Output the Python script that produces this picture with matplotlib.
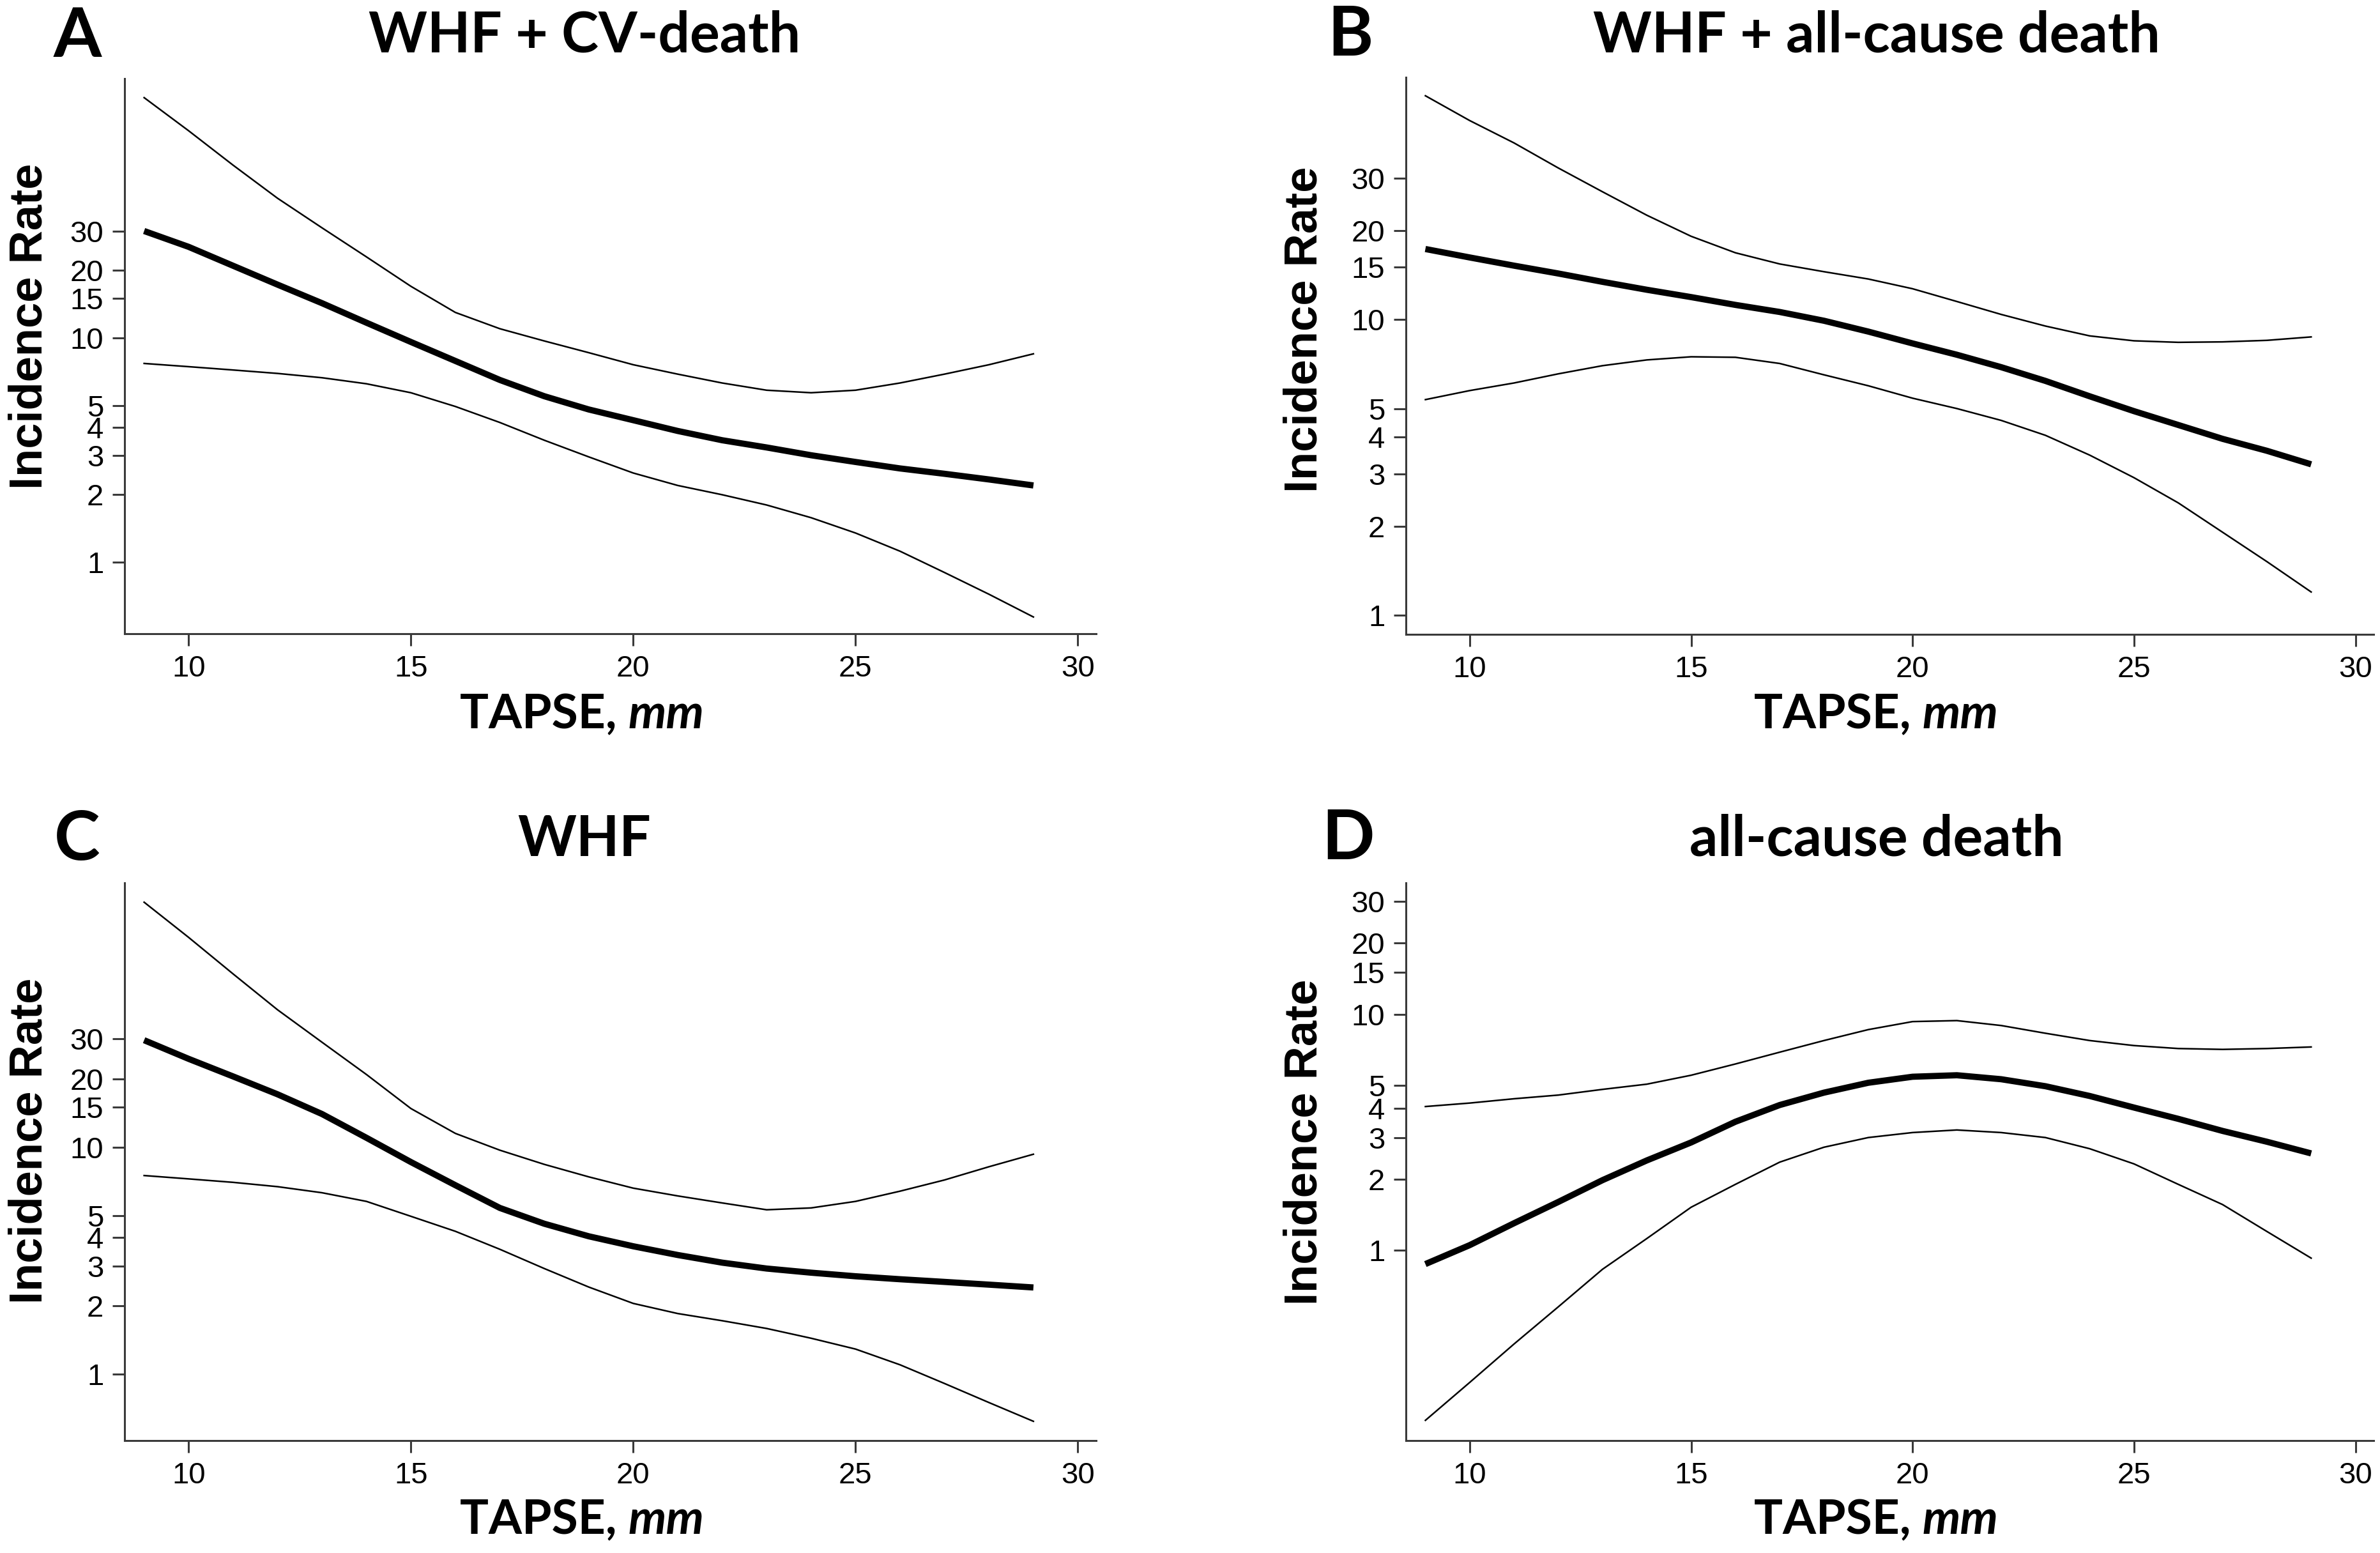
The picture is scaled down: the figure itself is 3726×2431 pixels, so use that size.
import matplotlib
matplotlib.use("Agg")
import matplotlib.pyplot as plt
from matplotlib.ticker import NullLocator
from matplotlib.text import Annotation

W, H = 3726, 2431

# TAPSE (mm) grid
tapse = [9, 10, 11, 12, 13, 14, 15, 16, 17, 18, 19, 20, 21, 22, 23, 24, 25, 26, 27, 28, 29]

# A: WHF + CV-death
a_est = [30, 25.5, 21, 17.3, 14.3, 11.7, 9.6, 7.9, 6.5, 5.5, 4.8, 4.3, 3.85, 3.5, 3.25, 3.0, 2.8, 2.62, 2.48, 2.34, 2.2]
a_hi = [118, 84, 59, 42, 31, 23, 17, 13, 11, 9.7, 8.6, 7.6, 6.9, 6.3, 5.85, 5.7, 5.85, 6.3, 6.9, 7.6, 8.5]
a_lo = [7.7, 7.45, 7.2, 6.95, 6.65, 6.25, 5.7, 4.95, 4.2, 3.5, 2.95, 2.5, 2.2, 2.0, 1.8, 1.58, 1.35, 1.12, 0.9, 0.72, 0.57]

# B: WHF + all-cause death
b_est = [17.3, 16.2, 15.2, 14.3, 13.4, 12.6, 11.9, 11.2, 10.6, 9.9, 9.1, 8.3, 7.6, 6.9, 6.2, 5.5, 4.9, 4.4, 3.95, 3.6, 3.24]
b_hi = [57, 47, 39.5, 32.5, 27, 22.5, 19.1, 16.8, 15.4, 14.5, 13.7, 12.7, 11.5, 10.4, 9.5, 8.8, 8.47, 8.37, 8.4, 8.5, 8.73]
b_lo = [5.36, 5.75, 6.1, 6.55, 6.98, 7.3, 7.48, 7.45, 7.1, 6.5, 5.97, 5.42, 5.0, 4.56, 4.06, 3.48, 2.92, 2.4, 1.91, 1.52, 1.2]

# C: WHF
c_est = [29.6, 24.5, 20.5, 17.1, 14.0, 11.0, 8.6, 6.8, 5.4, 4.6, 4.05, 3.66, 3.35, 3.1, 2.92, 2.8, 2.7, 2.62, 2.55, 2.48, 2.41]
c_hi = [120, 84, 58, 40.3, 29, 20.9, 14.8, 11.5, 9.7, 8.4, 7.4, 6.6, 6.1, 5.68, 5.3, 5.4, 5.77, 6.4, 7.17, 8.2, 9.31]
c_lo = [7.5, 7.25, 7.0, 6.7, 6.3, 5.77, 4.96, 4.26, 3.55, 2.92, 2.42, 2.05, 1.85, 1.72, 1.59, 1.44, 1.29, 1.1, 0.91, 0.75, 0.62]

# D: all-cause death
d_est = [0.873, 1.05, 1.3, 1.6, 1.98, 2.4, 2.86, 3.5, 4.12, 4.65, 5.12, 5.43, 5.51, 5.3, 4.95, 4.5, 4.02, 3.6, 3.2, 2.88, 2.57]
d_hi = [4.06, 4.2, 4.38, 4.54, 4.8, 5.05, 5.51, 6.15, 6.9, 7.73, 8.6, 9.3, 9.39, 8.95, 8.3, 7.73, 7.36, 7.15, 7.09, 7.15, 7.26]
d_lo = [0.19, 0.275, 0.40, 0.575, 0.83, 1.12, 1.52, 1.9, 2.36, 2.73, 3.0, 3.15, 3.23, 3.15, 3.0, 2.69, 2.32, 1.9, 1.56, 1.2, 0.925]

letters = ["A", "B", "C", "D"]
titles = ["WHF + CV-death", "WHF + all-cause death", "WHF", "all-cause death"]
y_ticks = [1, 2, 3, 4, 5, 10, 15, 20, 30]
x_ticks = [10, 15, 20, 25, 30]
y_limits = [(0.48, 143.5), (0.863, 65.8), (0.51, 146), (0.156, 36)]

series = [(a_est, a_hi, a_lo), (b_est, b_hi, b_lo), (c_est, c_hi, c_lo), (d_est, d_hi, d_lo)]

fig = plt.figure(figsize=(W / 100, H / 100), dpi=100)

# axes boxes in pixels: left, top, right, bottom
boxes = [(195, 123, 1716, 992), (2201, 121, 3716, 993),
         (195, 1382, 1716, 2255), (2201, 1382, 3716, 2255)]
# text anchors in pixels
title_pos = [(915, 82), (2938, 82), (915, 1340), (2938, 1340)]
letter_pos = [(121, 89), (2114, 87), (121, 1346), (2110, 1345)]
xlab_pos = [(720, 1140), (2746, 1140), (720, 2401), (2746, 2401)]
ylab_pos = [(47, 511), (2043, 516), (47, 1786), (2043, 1788)]

tick_font = ["Liberation Sans", "DejaVu Sans"]
head_font = ["Lato", "DejaVu Sans"]

for i in range(4):
    l, t, r, b = boxes[i]
    ax = fig.add_axes([l / W, 1 - b / H, (r - l) / W, (b - t) / H])
    est, hi, lo = series[i]
    ax.plot(tapse, hi, color="black", lw=1.8)
    ax.plot(tapse, lo, color="black", lw=1.8)
    ax.plot(tapse, est, color="black", lw=7, solid_capstyle="butt", solid_joinstyle="round")

    ax.set_yscale("log")
    ax.set_ylim(*y_limits[i])
    ax.set_xlim(8.56, 30.41)
    ax.set_yticks(y_ticks)
    ax.set_yticklabels([str(v) for v in y_ticks], family=tick_font, fontsize=34)
    ax.yaxis.set_minor_locator(NullLocator())
    ax.set_xticks(x_ticks)
    ax.set_xticklabels([str(v) for v in x_ticks], family=tick_font, fontsize=34)

    for s in ["top", "right"]:
        ax.spines[s].set_visible(False)
    for s in ["left", "bottom"]:
        ax.spines[s].set_linewidth(2.2)
        ax.spines[s].set_color("#3a3a3a")
    ax.tick_params(axis="both", length=13.5, width=2.2, color="#3a3a3a", pad=10)

    fig.text(title_pos[i][0] / W, 1 - title_pos[i][1] / H, titles[i], ha="center", va="baseline",
             family=head_font, fontweight="bold", fontsize=63)
    fig.text(letter_pos[i][0] / W, 1 - letter_pos[i][1] / H, letters[i], ha="center", va="baseline",
             family=head_font, fontweight="bold", fontsize=78)
    fig.text(ylab_pos[i][0] / W, 1 - ylab_pos[i][1] / H, "Incidence Rate", ha="center", va="center",
             rotation=90, family=["Liberation Sans", "DejaVu Sans"], fontweight="bold", fontsize=52)
    # x label: upright "TAPSE, " followed by italic "mm"
    t1 = fig.text(xlab_pos[i][0] / W, 1 - xlab_pos[i][1] / H, "TAPSE, ", ha="left", va="baseline",
                  family=head_font, fontweight="bold", fontsize=54)
    fig.add_artist(Annotation("mm", xy=(1, 0), xycoords=t1, ha="left", va="bottom",
                              family=head_font, fontweight="bold", fontstyle="italic", fontsize=54))

fig.savefig("out.png", dpi=100, facecolor="white")
